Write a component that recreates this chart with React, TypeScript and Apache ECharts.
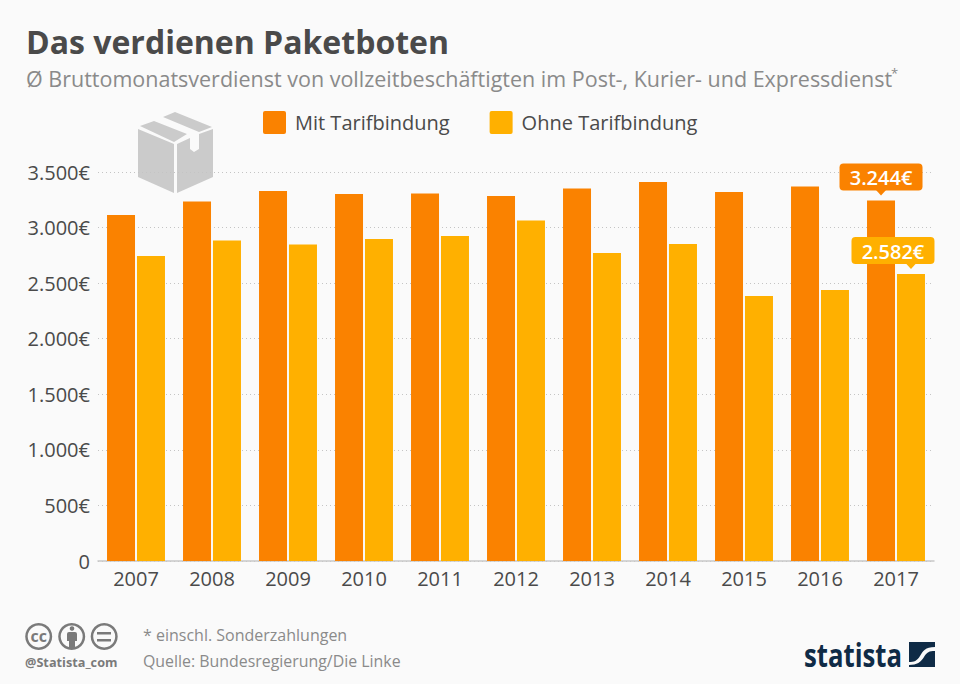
import React, { useEffect, useRef } from "react";
import * as echarts from "echarts";

const years = ["2007","2008","2009","2010","2011","2012","2013","2014","2015","2016","2017"];
const mitTarif = [3113,3235,3329,3302,3306,3284,3352,3410,3320,3370,3244];
const ohneTarif = [2744,2884,2848,2897,2924,3064,2771,2852,2384,2438,2582];
const yTicks = [0,500,1000,1500,2000,2500,3000,3500];
const ORANGE = "#fa8200";
const YELLOW = "#ffb000";
const FONT = "'Open Sans', sans-serif";
const LEGEND_ICON = "path://M2 0H21A2 2 0 0 1 23 2V21A2 2 0 0 1 21 23H2A2 2 0 0 1 0 21V2A2 2 0 0 1 2 0Z";

const fmt = (v: number) => v === 0 ? "0" : v.toLocaleString("de-DE") + "€";

echarts.graphic.registerShape("boxIcon", echarts.graphic.extendPath(
  "M138 129L174 144L174 193L138 177ZM177 144L190 138L190 149L194 152L199 149L199 134L213 129L213 177L177 193ZM140 126L154 121L187 134L174 142ZM163 117L175 112L212 127L199 132Z", {}) as any);
echarts.graphic.registerShape("personIcon", echarts.graphic.extendPath(
  "M69 632h6a2 2 0 0 1 2 2v7h-2v8h-6v-8h-2v-7a2 2 0 0 1 2-2Z", {}) as any);
echarts.graphic.registerShape("flagIcon", echarts.graphic.extendPath(
  "M909 642H935V647C925 647 923 651 920 656C917 661 914 662 909 662ZM935 651V667H909V665C917 665 921 662 924 657C927 652 929 651 935 651Z", {}) as any);

const lastLabel = (color: string, dx: number) => ({
  show: true,
  position: "top" as const,
  distance: 10,
  offset: [dx, 0],
  formatter: (p: any) => fmt(p.value),
  color: "#fff",
  fontFamily: FONT,
  fontSize: 20,
  fontWeight: 600,
  lineHeight: 20,
  backgroundColor: color,
  borderRadius: 4,
  padding: [4, 10, 3, 10],
  width: 63,
  align: "center" as const,
});

const series = (name: string, values: number[], color: string, dx: number) => ({
  name,
  type: "bar" as const,
  barWidth: 28,
  barGap: "7%",
  itemStyle: { color, borderWidth: 0 },
  data: values.map((v, i) => i === values.length - 1 ? { value: v, label: lastLabel(color, dx) } : v),
  markPoint: {
    silent: true,
    symbol: "triangle",
    symbolRotate: 180,
    symbolSize: [11, 6],
    symbolOffset: [0, -8],
    label: { show: false },
    itemStyle: { color },
    data: [{ coord: [years[years.length - 1], values[values.length - 1]] }],
  },
});

const txt = (x: number, y: number, text: string, fontSize: number, fill: string, extra: any = {}) => ({
  type: "text", x, y,
  style: { text, fontSize, fill, fontFamily: FONT, textVerticalAlign: "middle", ...extra },
});
const ring = (cx: number, cy: number) => ({
  type: "ring", shape: { cx, cy, r: 13.5, r0: 11 }, style: { fill: "#7a7a7a" },
});

export default function App() {
  const ref = useRef<HTMLDivElement>(null);
  useEffect(() => {
    const chart = echarts.init(ref.current!, null, { renderer: "svg" });
    chart.setOption({
      animation: false,
      backgroundColor: "#fafafa",
      textStyle: { fontFamily: FONT },
      grid: { left: 98, right: 26, top: 172, height: 389 },
      legend: {
        left: 258, top: 106,
        icon: LEGEND_ICON,
        itemWidth: 23, itemHeight: 23, itemGap: 40,
        selectedMode: false,
        itemStyle: { borderWidth: 0 },
        textStyle: { fontSize: 20, color: "#4a4a4a", fontFamily: FONT, padding: [0, 0, 0, 4] },
        data: ["Mit Tarifbindung", "Ohne Tarifbindung"],
      },
      xAxis: {
        type: "category",
        data: years,
        axisTick: { show: false },
        axisLine: { lineStyle: { color: "#c8c8c8", width: 1.5 } },
        axisLabel: { fontSize: 20, color: "#4a4a4a", margin: 7, fontFamily: FONT },
      },
      yAxis: {
        type: "value",
        min: 0, max: 3500, interval: 500,
        axisLine: { show: false },
        axisTick: { show: false },
        splitLine: { lineStyle: { type: [1, 3], color: "#c4c4c4", width: 1 } },
        axisLabel: {
          fontSize: 20, color: "#4a4a4a", margin: 8, fontFamily: FONT, padding: [0, 0, 2, 0],
          formatter: (v: number) => (yTicks.includes(v) ? fmt(v) : ""),
        },
      },
      series: [
        series("Mit Tarifbindung", mitTarif, ORANGE, 0),
        series("Ohne Tarifbindung", ohneTarif, YELLOW, -18),
      ],
      graphic: [
        txt(26, 41, "Das verdienen Paketboten", 32, "#4a4a4a", { fontWeight: 700 }),
        txt(26, 78, "Ø Bruttomonatsverdienst von vollzeitbeschäftigten im Post-, Kurier- und Expressdienst", 21.5, "#8a8a8a"),
        txt(891, 73, "*", 13, "#8a8a8a"),
        { type: "boxIcon", style: { fill: "#cbcbcb" } },
        ring(38.7, 636.5), ring(71.7, 636.5), ring(104.2, 636.5),
        txt(38.7, 635.5, "cc", 16, "#7a7a7a", { fontWeight: 700, textAlign: "center" }),
        { type: "personIcon", style: { fill: "#7a7a7a" } },
        { type: "circle", shape: { cx: 72, cy: 628.5, r: 2.3 }, style: { fill: "#7a7a7a" } },
        { type: "rect", shape: { x: 97, y: 632, width: 14, height: 2.5 }, style: { fill: "#7a7a7a" } },
        { type: "rect", shape: { x: 97, y: 639, width: 14, height: 2.5 }, style: { fill: "#7a7a7a" } },
        txt(25, 662, "@Statista_com", 12.7, "#7a7a7a", { fontWeight: 700 }),
        txt(143, 635, "* einschl. Sonderzahlungen", 16, "#8a8a8a"),
        txt(143, 661, "Quelle: Bundesregierung/Die Linke", 15.9, "#8a8a8a"),
        {
          type: "text", x: 804, y: 654, scaleX: 0.78,
          style: { text: "statista", fontSize: 33, fill: "#0f2b46", fontWeight: 700, fontFamily: FONT, textVerticalAlign: "middle" },
        },
        { type: "flagIcon", style: { fill: "#0f2b46" } },
      ],
    });
    return () => chart.dispose();
  }, []);
  return <div ref={ref} style={{ width: 960, height: 684, position: "absolute", left: 0, top: 0 }} />;
}
